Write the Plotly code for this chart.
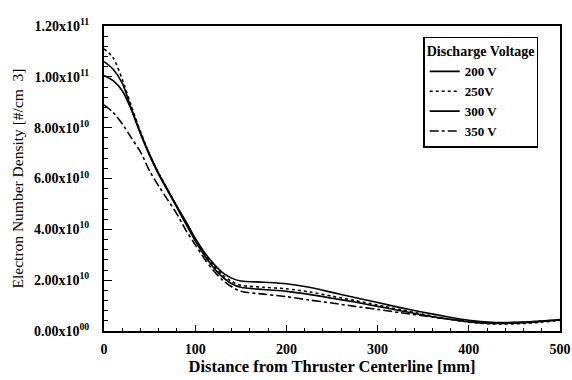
import plotly.graph_objects as go

# Distance from the thruster centerline [mm]
distance_mm = [0, 10, 20, 30, 40, 50, 60, 70, 80, 90, 100, 110, 120, 130, 140,
               150, 175, 200, 225, 250, 275, 300, 325, 350, 375, 400, 425, 450, 475, 500]

# Electron number density, in units of 1e10 per cm^3
density_200v = [10.6, 10.3, 9.75, 8.75, 7.8, 6.95, 6.2, 5.55, 4.9, 4.3, 3.65, 3.1, 2.65,
                2.3, 2.08, 1.97, 1.92, 1.86, 1.72, 1.52, 1.32, 1.12, 0.92, 0.74, 0.57,
                0.42, 0.34, 0.34, 0.38, 0.45]
density_250v = [11.1, 10.75, 9.9, 8.85, 7.85, 6.95, 6.2, 5.55, 4.9, 4.25, 3.6, 3.05, 2.58,
                2.2, 1.95, 1.8, 1.72, 1.66, 1.54, 1.37, 1.2, 1.02, 0.84, 0.66, 0.49,
                0.35, 0.28, 0.28, 0.33, 0.42]
density_300v = [10.05, 9.85, 9.45, 8.7, 7.75, 6.9, 6.15, 5.5, 4.85, 4.2, 3.55, 2.98, 2.5,
                2.12, 1.86, 1.72, 1.63, 1.56, 1.44, 1.29, 1.14, 0.97, 0.8, 0.63, 0.48,
                0.36, 0.3, 0.31, 0.36, 0.43]
density_350v = [8.9, 8.6, 8.15, 7.6, 7.05, 6.3, 5.7, 5.15, 4.6, 3.95, 3.4, 2.85, 2.38,
                2.0, 1.74, 1.56, 1.45, 1.35, 1.22, 1.1, 0.97, 0.85, 0.72, 0.6, 0.48,
                0.38, 0.32, 0.33, 0.38, 0.44]

series_names = ["200 V", "250V", "300 V", "350 V"]
series_values = [density_200v, density_250v, density_300v, density_350v]
series_dash = ["solid", "dot", "solid", "dashdot"]

# Axis tick labels
x_tick_values = [0, 100, 200, 300, 400, 500]
y_tick_values = [0, 2, 4, 6, 8, 10, 12]
y_tick_labels = ["0.00x10<sup>00</sup>", "2.00x10<sup>10</sup>", "4.00x10<sup>10</sup>",
                 "6.00x10<sup>10</sup>", "8.00x10<sup>10</sup>", "1.00x10<sup>11</sup>",
                 "1.20x10<sup>11</sup>"]

SERIF = "Liberation Serif, Times New Roman, serif"

fig = go.Figure()
for name, values, dash in zip(series_names, series_values, series_dash):
    fig.add_trace(go.Scatter(
        x=distance_mm, y=values, name=name, mode="lines",
        line=dict(color="black", width=1.6, dash=dash, shape="spline", smoothing=0.8),
    ))

axis_common = dict(
    showgrid=False, zeroline=False, automargin=False,
    showline=True, linecolor="black", linewidth=2, mirror=True,
    ticks="inside", tickcolor="black", tickwidth=1.2,
    tickfont=dict(family=SERIF, size=14, color="black", weight="bold"),
)

fig.update_xaxes(
    range=[0, 500], tickvals=x_tick_values, ticklen=6,
    minor=dict(dtick=20, ticks="inside", ticklen=3, tickcolor="black", tickwidth=1),
    ticklabelstandoff=4,
    title=dict(text="Distance from Thruster Centerline [mm]", standoff=2,
               font=dict(family=SERIF, size=16.5, color="black", weight="bold")),
    **axis_common,
)
fig.update_yaxes(
    range=[0, 12], tickvals=y_tick_values, ticktext=y_tick_labels, ticklen=8,
    minor=dict(dtick=0.4, ticks="inside", ticklen=4, tickcolor="black", tickwidth=1),
    ticklabelstandoff=10,
    title=dict(text="Electron Number Density [#/cm  3]", standoff=6,
               font=dict(family=SERIF, size=15.5, color="black")),
    **axis_common,
)

fig.update_layout(
    width=572, height=380,
    margin=dict(l=104, r=12, t=26, b=49),
    paper_bgcolor="white", plot_bgcolor="white",
    showlegend=True,
    legend=dict(
        title=dict(text="Discharge Voltage",
                   font=dict(family=SERIF, size=14, color="black", weight="bold")),
        font=dict(family=SERIF, size=13, color="black", weight="bold"),
        x=0.70, y=0.965, xanchor="left", yanchor="top",
        bgcolor="white", bordercolor="black", borderwidth=1.5,
        tracegroupgap=0, itemwidth=30,
    ),
)

fig.write_html("out.html")
